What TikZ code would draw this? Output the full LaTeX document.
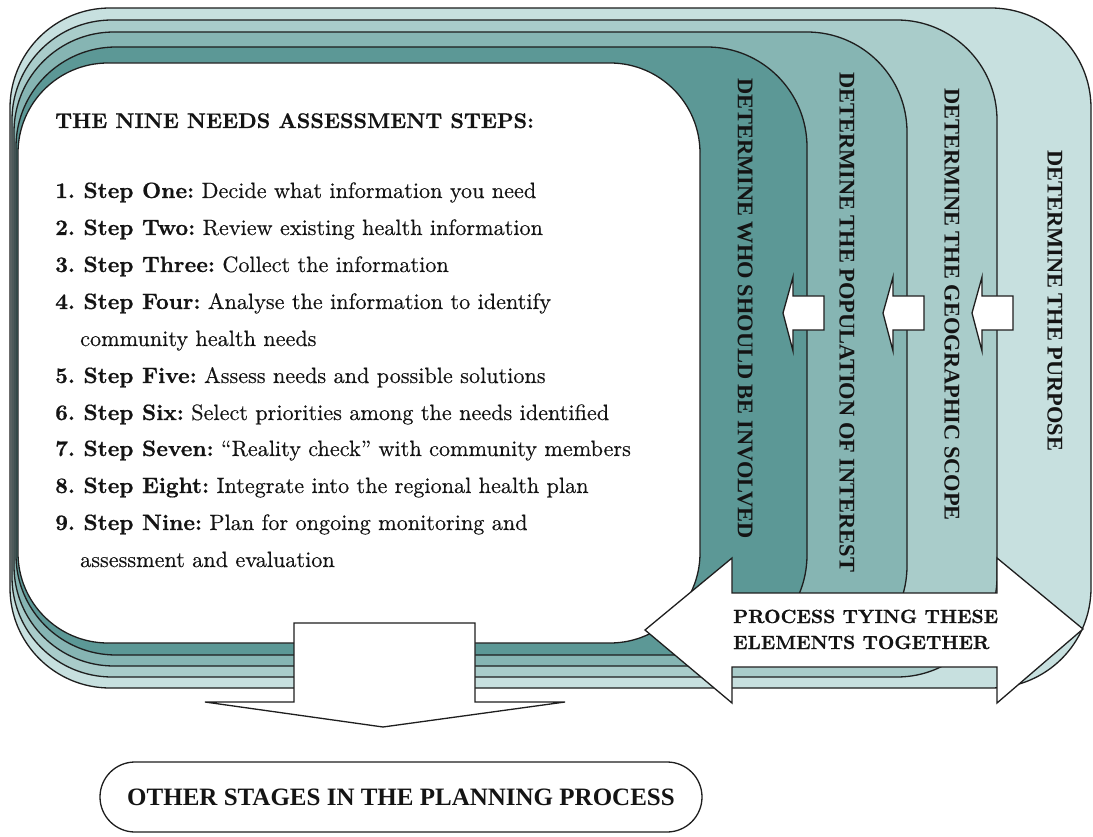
\documentclass[tikz,border=0pt]{standalone}
\usepackage{fontspec}
\setmainfont{lmroman10-regular.otf}[UprightFeatures={FakeBold=0.35},
  BoldFont=lmroman10-bold.otf, BoldFeatures={FakeBold=0.6}]
\newfontfamily\timesf{Liberation Serif}
\definecolor{tealA}{RGB}{92,152,150}
\definecolor{tealB}{RGB}{134,181,179}
\definecolor{tealC}{RGB}{169,204,202}
\definecolor{tealD}{RGB}{199,224,223}
\definecolor{lineC}{RGB}{30,30,30}
\definecolor{txt}{RGB}{20,20,20}
\frenchspacing
\begin{document}
\begin{tikzpicture}[x=1pt,y=-1pt]
\tikzset{
  layer/.style={draw=lineC, line width=1.3pt, rounded corners=100pt},
  whitearrow/.style={draw=lineC, fill=white, line width=1.3pt, line join=miter},
  vlabel/.style={rotate=-90, anchor=west, inner sep=0pt, text=txt,
    font=\timesf\bfseries\fontsize{22.4}{22}\selectfont},
  item/.style={anchor=base west, inner sep=0pt, text=txt,
    font=\fontsize{22.2}{26}\selectfont},
  proctext/.style={anchor=base west, inner sep=0pt, text=txt,
    font=\bfseries\fontsize{19.1}{22}\selectfont},
  larrow/.pic={\path[whitearrow] (0,0) -- (10,-36) -- (10,-17) -- (41,-17)
      -- (41,17) -- (10,17) -- (10,38) -- cycle;}
}
\useasboundingbox (0,0) rectangle (1093,837);
\fill[white] (0,0) rectangle (1093,837);

% stacked layers
\path[layer, fill=tealD] (10,8) rectangle (1091,688);
\path[layer, fill=tealC] (12,20) rectangle (997,677);
\path[layer, fill=tealB] (14,32) rectangle (907,666);
\path[layer, fill=tealA] (16,47) rectangle (807,655);
\path[layer, fill=white, rounded corners=90pt] (18,63) rectangle (700,643);

% vertical labels
\node[vlabel] (v1) at (745,78)  {DETERMINE WHO SHOULD BE INVOLVED};
\node[vlabel] (v2) at (847,72)  {DETERMINE THE POPULATION OF INTEREST};
\node[vlabel] (v3) at (952,88)  {DETERMINE THE GEOGRAPHIC SCOPE};
\node[vlabel] (v4) at (1055,150) {DETERMINE THE PURPOSE};

% small arrows
\pic (a1) at (783,313) {larrow};
\pic (a2) at (883,313) {larrow};
\pic (a3) at (972,313) {larrow};

% double arrow
\path[whitearrow] (645,630) -- (732,558) -- (732,593) -- (997,593) -- (997,558)
  -- (1083,629) -- (997,703) -- (997,667) -- (732,667) -- (732,703) -- cycle;
\node[proctext] (p1) at (733,623) {PROCESS TYING THESE};
\node[proctext] (p2) at (733,649) {ELEMENTS TOGETHER};

% down arrow
\path[whitearrow] (294,623) -- (475,623) -- (475,702) -- (565,702) -- (383,727)
  -- (205,702) -- (294,702) -- cycle;

% text in white box
\node[item, font=\bfseries\fontsize{21.2}{24}\selectfont] (title) at (55,128)
  {THE NINE NEEDS ASSESSMENT STEPS:};
\node[item] (s1) at (55,198) {\textbf{1. Step One:} Decide what information you need};
\node[item] (s2) at (55,235) {\textbf{2. Step Two:} Review existing health information};
\node[item] (s3) at (55,272) {\textbf{3. Step Three:} Collect the information};
\node[item] (s4) at (55,309) {\textbf{4. Step Four:} Analyse the information to identify};
\node[item] (s4b) at (80,346) {community health needs};
\node[item] (s5) at (55,383) {\textbf{5. Step Five:} Assess needs and possible solutions};
\node[item] (s6) at (55,420) {\textbf{6. Step Six:} Select priorities among the needs identified};
\node[item] (s7) at (55,456) {\textbf{7. Step Seven:} “Reality check” with community members};
\node[item] (s8) at (55,493) {\textbf{8. Step Eight:} Integrate into the regional health plan};
\node[item] (s9) at (55,530) {\textbf{9. Step Nine:} Plan for ongoing monitoring and};
\node[item] (s9b) at (80,567) {assessment and evaluation};

% bottom box
\node[draw=lineC, line width=1.3pt, rounded corners=35pt, minimum width=602pt,
  minimum height=70pt, text=txt, font=\timesf\bfseries\fontsize{25}{25}\selectfont]
  (other) at (401,797) {OTHER STAGES IN THE PLANNING PROCESS};
\end{tikzpicture}
\end{document}
